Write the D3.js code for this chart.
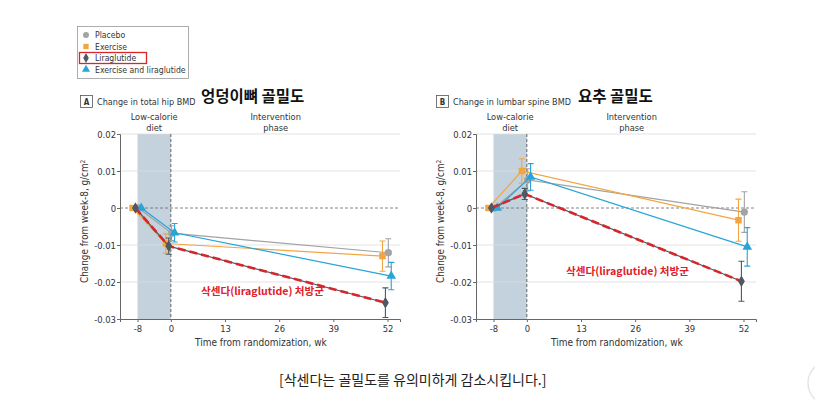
<!DOCTYPE html>
<html>
<head>
<meta charset="utf-8">
<script src="https://cdn.jsdelivr.net/npm/d3@7"></script>
<style>
  body { margin: 0; background: #fff; }
  svg { display: block; }
  .small { font-family: "DejaVu Sans Condensed", "Liberation Sans Narrow", "Noto Sans", sans-serif; fill: #333; }
  .kr { font-family: "Noto Sans CJK KR", sans-serif; }
</style>
</head>
<body>
<div id="chart"></div>
<script>
// weeks measured
const weeks = [-8, 0, 52];
const xTicks = [-8, 0, 13, 26, 39, 52];
const xTickLabels = ["-8", "0", "13", "26", "39", "52"];
const yTicks = [-0.03, -0.02, -0.01, 0, 0.01, 0.02];
const yTickLabels = ["-0.03", "-0.02", "-0.01", "0", "0.01", "0.02"];
const seriesNames = ["Placebo", "Exercise", "Liraglutide", "Exercise and liraglutide"];

// A: total hip BMD (mean, error half-width)
const hipPlacebo = [0, -0.0068, -0.0121];
const hipPlaceboErr = [0, 0.0020, 0.0038];
const hipExercise = [0, -0.0096, -0.0130];
const hipExerciseErr = [0, 0.0026, 0.0041];
const hipLira = [0, -0.0103, -0.0256];
const hipLiraErr = [0, 0.0022, 0.0040];
const hipCombo = [0, -0.0067, -0.0184];
const hipComboErr = [0, 0.0025, 0.0037];

// B: lumbar spine BMD
const spinePlacebo = [0, 0.0076, -0.0011];
const spinePlaceboErr = [0, 0.0030, 0.0055];
const spineExercise = [0, 0.0100, -0.0033];
const spineExerciseErr = [0, 0.0033, 0.0057];
const spineLira = [0, 0.0038, -0.0198];
const spineLiraErr = [0, 0.0015, 0.0054];
const spineCombo = [0, 0.0084, -0.0105];
const spineComboErr = [0, 0.0036, 0.0052];

const W = 815, H = 403;
const svg = d3.select("#chart").append("svg")
    .attr("width", W).attr("height", H);
svg.append("rect").attr("width", W).attr("height", H).attr("fill", "#fff");

// series styling
const styles = [
    { color: "#a3a3a3", shape: d3.symbolCircle, size: 42, shift: 0.2 },
    { color: "#f2a541", shape: d3.symbolSquare, size: 42, shift: -1.2 },
    { color: "#4d5963", shape: d3.symbolDiamond, size: 36, shift: -0.5 },
    { color: "#27a4d8", shape: d3.symbolTriangle, size: 40, shift: 0.9 }
];

// legend
const legend = svg.append("g");
legend.append("rect").attr("x", 77.5).attr("y", 26.5).attr("width", 111).attr("height", 52)
    .attr("fill", "#fff").attr("stroke", "#999").attr("stroke-width", 0.8);
seriesNames.forEach((name, i) => {
    const y = 35 + i * 11.5;
    legend.append("path")
        .attr("d", d3.symbol().type(styles[i].shape).size(28)())
        .attr("transform", "translate(86," + y + ")")
        .attr("fill", styles[i].color);
    legend.append("text").attr("class", "small")
        .attr("x", 95).attr("y", y + 3.2)
        .attr("font-size", 8.6).text(name);
});
legend.append("rect").attr("x", 79.5).attr("y", 52.5).attr("width", 67).attr("height", 11)
    .attr("fill", "none").attr("stroke", "#d8262b").attr("stroke-width", 1.3);

function panel(opt) {
    const x = d3.scaleLinear().domain([-12.2, 55]).range([opt.left, opt.left + 280]);
    const y = d3.scaleLinear().domain([-0.03, 0.02]).range([319, 134]);
    const g = svg.append("g");

    // label box + titles
    g.append("rect").attr("x", opt.left - 39.5).attr("y", 95.5).attr("width", 12).attr("height", 12)
        .attr("fill", "#fff").attr("stroke", "#555").attr("stroke-width", 0.8);
    g.append("text").attr("class", "small").attr("x", opt.left - 33.5).attr("y", 104.5)
        .attr("text-anchor", "middle").attr("font-size", 8).attr("font-weight", "bold").text(opt.letter);
    g.append("text").attr("class", "small").attr("x", opt.left - 23).attr("y", 104.5)
        .attr("font-size", 9).text(opt.title);
    g.append("text").attr("class", "kr").attr("x", opt.krX).attr("y", 101.5)
        .attr("font-size", 15.5).attr("font-weight", "bold").attr("fill", "#111").text(opt.krTitle);

    // diet band
    g.append("rect").attr("x", x(-8)).attr("y", y(0.02)).attr("width", x(0) - x(-8))
        .attr("height", y(-0.03) - y(0.02)).attr("fill", "#c3d2dd");

    // grid
    g.selectAll(".grid").data(yTicks.filter(d => d !== 0 && d !== -0.03)).enter()
        .append("line")
        .attr("x1", x.range()[0]).attr("x2", x.range()[1])
        .attr("y1", d => y(d)).attr("y2", d => y(d))
        .attr("stroke", "#dcdcdc").attr("stroke-width", 0.8);
    g.append("line").attr("x1", x.range()[0]).attr("x2", x.range()[1])
        .attr("y1", y(0)).attr("y2", y(0))
        .attr("stroke", "#777").attr("stroke-width", 0.9).attr("stroke-dasharray", "3,2");
    g.append("line").attr("x1", x(0)).attr("x2", x(0))
        .attr("y1", y(0.02)).attr("y2", y(-0.03))
        .attr("stroke", "#555").attr("stroke-width", 0.9).attr("stroke-dasharray", "3,2");

    // axes
    const yAxis = d3.axisLeft(y).tickValues(yTicks).tickSize(3)
        .tickFormat((d, i) => yTickLabels[i]);
    const ya = g.append("g").attr("transform", "translate(" + opt.left + ",0)").call(yAxis);
    const xAxis = d3.axisBottom(x).tickValues(xTicks).tickSize(3)
        .tickFormat((d, i) => xTickLabels[i]);
    const xa = g.append("g").attr("transform", "translate(0,319)").call(xAxis);
    [ya, xa].forEach(a => {
        a.select(".domain").attr("stroke", "#666");
        a.selectAll(".tick line").attr("stroke", "#666");
        a.selectAll("text").attr("class", "small").attr("font-size", 9.4).attr("fill", "#333");
    });
    ya.selectAll("text").attr("x", -4);

    // phase labels
    [["Low-calorie", "diet", (x(-8) + x(0)) / 2], ["Intervention", "phase", x(26) - 3.5]].forEach(p => {
        g.append("text").attr("class", "small").attr("x", p[2]).attr("y", 120)
            .attr("text-anchor", "middle").attr("font-size", 9.2).attr("fill", "#555").text(p[0]);
        g.append("text").attr("class", "small").attr("x", p[2]).attr("y", 130.5)
            .attr("text-anchor", "middle").attr("font-size", 9.2).attr("fill", "#555").text(p[1]);
    });

    g.append("text").attr("class", "small")
        .attr("transform", "translate(" + (opt.left - 32) + "," + y(-0.0036) + ") rotate(-90)")
        .attr("text-anchor", "middle").attr("font-size", 9.8).html("Change from week-8, g/cm<tspan dy='-3' font-size='6.5'>2</tspan>");
    g.append("text").attr("class", "small").attr("x", x(21.6)).attr("y", 346)
        .attr("text-anchor", "middle").attr("font-size", 10).text("Time from randomization, wk");

    // series
    const order = [0, 1, 3, 2];
    order.forEach(i => {
        const s = styles[i];
        const pts = weeks.map((w, j) => ({ w: w + s.shift, v: opt.means[i][j], e: opt.errs[i][j] }));
        g.append("path").datum(pts)
            .attr("d", d3.line().x(d => x(d.w)).y(d => y(d.v)))
            .attr("fill", "none").attr("stroke", s.color).attr("stroke-width", 1.2);
        pts.filter(d => d.e > 0).forEach(d => {
            const cx = x(d.w);
            g.append("path")
                .attr("d", "M" + cx + "," + y(d.v + d.e) + "V" + y(d.v - d.e) +
                    "M" + (cx - 3) + "," + y(d.v + d.e) + "h6" +
                    "M" + (cx - 3) + "," + y(d.v - d.e) + "h6")
                .attr("stroke", s.color).attr("stroke-width", 1.1).attr("fill", "none");
        });
        g.selectAll(".pt" + i).data(pts).enter().append("path")
            .attr("d", d3.symbol().type(s.shape).size(s.size))
            .attr("transform", d => "translate(" + x(d.w) + "," + y(d.v) + ")")
            .attr("fill", s.color);
    });

    // highlight overlay for liraglutide
    const lira = weeks.map((w, j) => ({ w: w + styles[2].shift, v: opt.means[2][j] }));
    g.append("path").datum(lira)
        .attr("d", d3.line().x(d => x(d.w)).y(d => y(d.v)))
        .attr("fill", "none").attr("stroke", "#d7262b").attr("stroke-width", 2.6)
        .attr("stroke-dasharray", "8,4");
    g.selectAll(".hl").data(lira).enter().append("path")
        .attr("d", d3.symbol().type(d3.symbolDiamond).size(36))
        .attr("transform", d => "translate(" + x(d.w) + "," + y(d.v) + ")")
        .attr("fill", styles[2].color);

    g.append("text").attr("class", "kr").attr("x", opt.noteX).attr("y", opt.noteY)
        .attr("font-size", 10.6).attr("font-weight", "bold").attr("fill", "#e0202a")
        .text("삭센다(liraglutide) 처방군");
}

panel({
    left: 120, letter: "A", title: "Change in total hip BMD", krTitle: "엉덩이뼈 골밀도", krX: 201,
    means: [hipPlacebo, hipExercise, hipLira, hipCombo],
    errs: [hipPlaceboErr, hipExerciseErr, hipLiraErr, hipComboErr],
    noteX: 201, noteY: 295
});
panel({
    left: 476, letter: "B", title: "Change in lumbar spine BMD", krTitle: "요추 골밀도", krX: 578,
    means: [spinePlacebo, spineExercise, spineLira, spineCombo],
    errs: [spinePlaceboErr, spineExerciseErr, spineLiraErr, spineComboErr],
    noteX: 566, noteY: 275
});

svg.append("text").attr("class", "kr").attr("x", 279).attr("y", 385)
    .attr("font-size", 14).attr("fill", "#222").text("[삭센다는 골밀도를 유의미하게 감소시킵니다.]");

// partial round button at right edge
svg.append("circle").attr("cx", 830).attr("cy", 383).attr("r", 22)
    .attr("fill", "#fff").attr("stroke", "#e6e6e6").attr("stroke-width", 1.5);
</script>
</body>
</html>
